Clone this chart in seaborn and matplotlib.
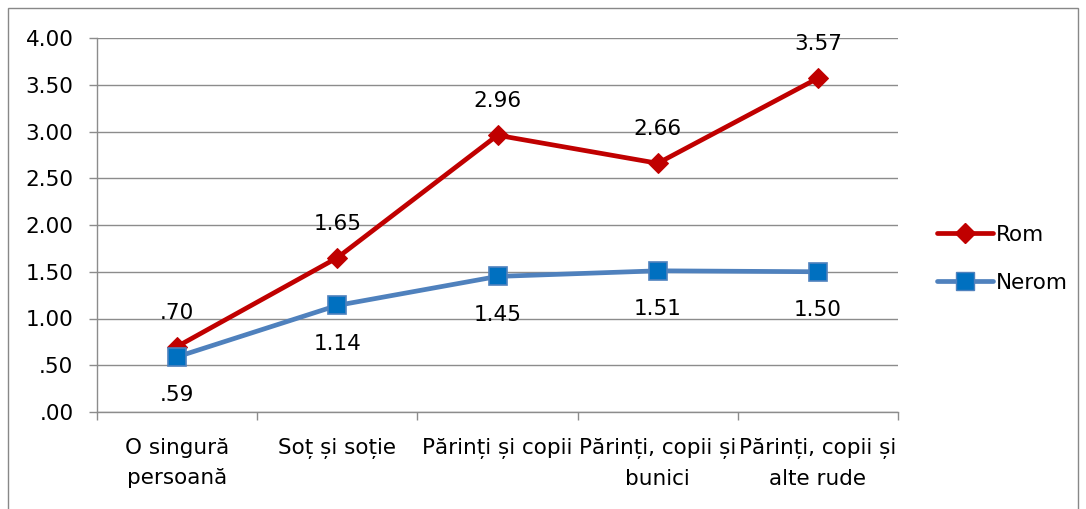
import pandas as pd
import seaborn as sns
import matplotlib.pyplot as plt
from matplotlib.patches import Rectangle
from matplotlib.lines import Line2D
from matplotlib.ticker import FuncFormatter, FixedLocator

categories = ["O singură\npersoană", "Soț și soție", "Părinți și copii",
              "Părinți, copii și\nbunici", "Părinți, copii și\nalte rude"]
rom = [0.70, 1.65, 2.96, 2.66, 3.57]
nerom = [0.59, 1.14, 1.45, 1.51, 1.50]

sns.set_style("white")
plt.rcParams['font.family'] = ['DejaVu Sans']
plt.rcParams['text.color'] = 'black'
plt.rcParams['xtick.labelcolor'] = 'black'
plt.rcParams['ytick.labelcolor'] = 'black'
FS = 15.5

df = pd.DataFrame({
    'cat': list(range(len(categories))) * 2,
    'value': rom + nerom,
    'series': ['Rom'] * len(rom) + ['Nerom'] * len(nerom),
})

fig = plt.figure(figsize=(10.86, 5.09), dpi=100)
ax = fig.add_axes([97/1086, 1 - 412/509, 801/1086, 374/509])

# outer chart border
fig.patches.append(Rectangle((8/1086, -0.01), 1070/1086, 1 - 8/509 + 0.01, transform=fig.transFigure,
                             fill=False, edgecolor='#888888', linewidth=1.0))

sns.lineplot(data=df, x='cat', y='value', hue='series', style='series',
             hue_order=['Rom', 'Nerom'],
             palette={'Rom': '#C00000', 'Nerom': '#4F81BD'},
             markers={'Rom': 'D', 'Nerom': 's'}, dashes=False,
             linewidth=3.4, ax=ax, legend=False)

lines = ax.get_lines()
lines[0].set_markersize(10)
lines[0].set_markerfacecolor('#C00000')
lines[0].set_markeredgecolor('#C00000')
lines[1].set_markersize(13.5)
lines[1].set_markerfacecolor('#0070C0')
lines[1].set_markeredgecolor('#4F81BD')
lines[1].set_markeredgewidth(1.2)

fmt = lambda v: f"{v:.2f}".lstrip('0') if v < 1 else f"{v:.2f}"

for i, v in enumerate(rom):
    ax.annotate(fmt(v), (i, v), xytext=(0, 24.5), textcoords='offset points',
                ha='center', va='center', fontsize=FS, color='black')
for i, v in enumerate(nerom):
    ax.annotate(fmt(v), (i, v), xytext=(0, -27.5), textcoords='offset points',
                ha='center', va='center', fontsize=FS, color='black')

ax.set_xlim(-0.5, 4.5)
ax.set_ylim(0, 4)
ax.set_yticks([0, 0.5, 1, 1.5, 2, 2.5, 3, 3.5, 4])
ax.yaxis.set_major_formatter(FuncFormatter(lambda v, p: fmt(v)))
ax.grid(axis='y', color='#8C8C8C', linewidth=1)
ax.set_axisbelow(True)

ax.set_xticks(range(len(categories)))
ax.set_xticklabels(categories, fontsize=FS, linespacing=1.6)
ax.tick_params(axis='x', which='major', length=0, pad=19)
ax.xaxis.set_minor_locator(FixedLocator([-0.5, 0.5, 1.5, 2.5, 3.5, 4.5]))
ax.tick_params(axis='x', which='minor', length=6, color='#8C8C8C', width=1, bottom=True)
ax.tick_params(axis='y', length=6, color='#8C8C8C', width=1, labelsize=FS, pad=11, left=True)

for s in ['top', 'right']:
    ax.spines[s].set_visible(False)
for s in ['left', 'bottom']:
    ax.spines[s].set_color('#8C8C8C')
    ax.spines[s].set_linewidth(1)
ax.set_xlabel('')
ax.set_ylabel('')

handles = [Line2D([], [], color='#C00000', lw=3.4, marker='D', markersize=10,
                  markerfacecolor='#C00000', markeredgecolor='#C00000'),
           Line2D([], [], color='#4F81BD', lw=3.4, marker='s', markersize=13.5,
                  markerfacecolor='#0070C0', markeredgecolor='#4F81BD')]
fig.legend(handles, ['Rom', 'Nerom'], loc='center left', bbox_to_anchor=(918/1086, 1 - 259/509),
           frameon=False, fontsize=FS, handlelength=2.6, handletextpad=0.1, labelspacing=1.3)

fig.savefig('out.png', dpi=100)
